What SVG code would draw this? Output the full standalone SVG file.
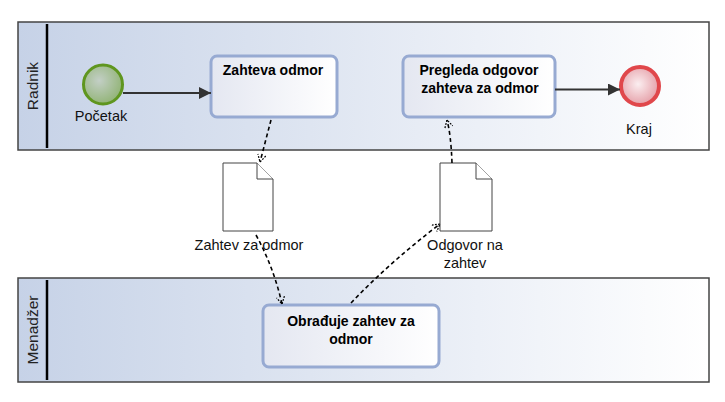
<svg xmlns="http://www.w3.org/2000/svg" width="725" height="402" viewBox="0 0 725 402">
<defs>
<linearGradient id="poolG" x1="0" y1="0" x2="1" y2="0">
<stop offset="0" stop-color="#c6d2e7"/>
<stop offset="1" stop-color="#ffffff"/>
</linearGradient>
<linearGradient id="taskG" x1="0" y1="0" x2="1" y2="0">
<stop offset="0" stop-color="#e4e7f1"/>
<stop offset="1" stop-color="#ffffff"/>
</linearGradient>
<radialGradient id="startG" cx="0.4" cy="0.4" r="0.6">
<stop offset="0" stop-color="#c3cfc6"/>
<stop offset="1" stop-color="#94b57a"/>
</radialGradient>
<radialGradient id="endG" cx="0.45" cy="0.45" r="0.6">
<stop offset="0" stop-color="#fbeef0"/>
<stop offset="1" stop-color="#e49aa3"/>
</radialGradient>
<marker id="seqArrow" viewBox="0 0 12 12" refX="12" refY="6" markerWidth="12" markerHeight="12" markerUnits="userSpaceOnUse" orient="auto">
<path d="M0,0 L12,6 L0,12 Z" fill="#333"/>
</marker>
<marker id="openArrow" viewBox="0 0 10 10" refX="9" refY="5" markerWidth="9" markerHeight="9" markerUnits="userSpaceOnUse" orient="auto">
<path d="M1,0.5 L9,5 L1,9.5" fill="none" stroke="#000" stroke-width="1.4" stroke-dasharray="2,1.5"/>
</marker>
</defs>
<style>
.pool{fill:url(#poolG);stroke:#444;stroke-width:1.5}
.hdr{stroke:#000;stroke-width:2.5}
.lane{font-family:"Liberation Sans",Arial,sans-serif;font-size:15.5px;fill:#222}
.task rect{fill:url(#taskG);stroke:#97aad2;stroke-width:3}
.tlabel{font-family:"Liberation Sans",Arial,sans-serif;font-size:14px;font-weight:bold;fill:#000;text-anchor:middle}
.label{font-family:"Liberation Sans",Arial,sans-serif;font-size:14.5px;fill:#111;text-anchor:middle}
.doc{fill:#fff;stroke:#444;stroke-width:1}
.seq{stroke:#333;stroke-width:2;fill:none;marker-end:url(#seqArrow)}
.assoc{stroke:#000;stroke-width:1.6;stroke-dasharray:4,3;fill:none;marker-end:url(#openArrow)}
</style>

<g id="pool-radnik">
<rect class="pool" x="18" y="22" width="691" height="128"/>
<line class="hdr" x1="47" y1="24" x2="47" y2="148"/>
<text class="lane" transform="translate(38,86) rotate(-90)" text-anchor="middle">Radnik</text>
</g>
<g id="pool-menadzer">
<rect class="pool" x="18" y="278" width="691" height="104"/>
<line class="hdr" x1="47" y1="280" x2="47" y2="380"/>
<text class="lane" transform="translate(38,330) rotate(-90)" text-anchor="middle">Menadžer</text>
</g>

<g id="start">
<circle cx="103" cy="84.5" r="19.5" fill="url(#startG)" stroke="#5f961f" stroke-width="3"/>
<text class="label" x="101" y="121">Početak</text>
</g>

<g id="task-zahteva" class="task">
<rect x="211" y="56" width="126" height="61" rx="6"/>
<text class="tlabel" x="273" y="75">Zahteva odmor</text>
</g>

<g id="task-pregleda" class="task">
<rect x="403" y="56" width="152" height="61" rx="6"/>
<text class="tlabel" x="479" y="75">Pregleda odgovor</text>
<text class="tlabel" x="480" y="93">zahteva za odmor</text>
</g>

<g id="end">
<circle cx="640" cy="86" r="19" fill="url(#endG)" stroke="#e0474b" stroke-width="4"/>
<text class="label" x="639" y="134">Kraj</text>
</g>

<g id="doc-zahtev">
<path class="doc" d="M223,163 L257,163 L273,179 L273,231 L223,231 Z"/>
<path class="doc" d="M257,163 L257,179 L273,179" fill="none"/>
<text class="label" x="249" y="250">Zahtev za odmor</text>
</g>

<g id="doc-odgovor">
<path class="doc" d="M440,163 L476,163 L492,179 L492,231 L440,231 Z"/>
<path class="doc" d="M476,163 L476,179 L492,179" fill="none"/>
<text class="label" x="465" y="250">Odgovor na</text>
<text class="label" x="465" y="268">zahtev</text>
</g>

<g id="task-obradjuje" class="task">
<rect x="263" y="305" width="176" height="62" rx="6"/>
<text class="tlabel" x="351" y="326">Obrađuje zahtev za</text>
<text class="tlabel" x="351" y="344">odmor</text>
</g>

<g id="connectors">
<line class="seq" x1="123" y1="93" x2="211" y2="93"/>
<line class="seq" x1="555" y1="89.5" x2="620" y2="89.5"/>
<path class="assoc" d="M271,120 L260,162"/>
<path class="assoc" d="M256,235 Q274,268 282,304"/>
<path class="assoc" d="M351,303 Q390,262 440,224"/>
<path class="assoc" d="M452,163 Q451,135 447,120"/>
</g>
</svg>
